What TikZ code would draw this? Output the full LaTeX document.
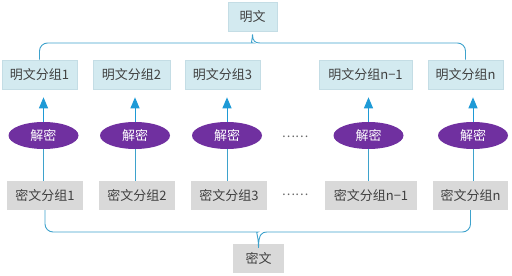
\documentclass[tikz,border=0pt]{standalone}
\usepackage{fontspec}
\setmainfont{Noto Sans CJK SC}
\usetikzlibrary{arrows.meta,shapes.geometric}
\definecolor{txt}{HTML}{404040}
\definecolor{pbox}{HTML}{D3EAF0}
\definecolor{pline}{HTML}{C4DDE5}
\definecolor{cbox}{HTML}{D9D9D9}
\definecolor{dec}{HTML}{7030A0}
\definecolor{lnk}{HTML}{3EA2CC}
\definecolor{arw}{HTML}{1E9AD6}
\tikzset{
  plain/.style={draw=pline,line width=0.6pt,fill=pbox,minimum height=29pt,inner sep=0pt,text=txt,font=\fontsize{13}{15}\selectfont},
  cipher/.style={fill=cbox,minimum height=29pt,inner sep=0pt,text=txt,font=\fontsize{13}{15}\selectfont},
  decbox/.style={ellipse,fill=dec,minimum width=70pt,minimum height=27pt,inner sep=0pt,text=white,font=\fontsize{13}{15}\selectfont},
  link/.style={draw=lnk,line width=0.9pt},
  up/.style={draw=arw,line width=1pt,-{Triangle[width=9pt,length=11pt]},shorten >=8pt},
  dots/.style={text=txt!80,font=\fontsize{12.5}{14}\selectfont,inner sep=0pt}
}
\begin{document}
\begin{tikzpicture}[x=1pt,y=-1pt]
\useasboundingbox (0,0) rectangle (512,276);
% nodes
\node[plain,minimum width=49pt] (P) at (252.5,16.5) {明文};
\node[plain,minimum width=75pt] (p1) at (39.5,74.5) {明文分组1};
\node[plain,minimum width=77pt] (p2) at (131.5,74.5) {明文分组2};
\node[plain,minimum width=75pt] (p3) at (222.5,74.5) {明文分组3};
\node[plain,minimum width=93pt] (p4) at (365.5,74.5) {明文分组n−1};
\node[plain,minimum width=75pt] (p5) at (465.5,74.5) {明文分组n};
\node[decbox] (e1) at (43.5,135.5) {解密};
\node[decbox] (e2) at (135,135.5) {解密};
\node[decbox] (e3) at (227,135.5) {解密};
\node[decbox] (e4) at (368.5,135.5) {解密};
\node[decbox] (e5) at (473,135.5) {解密};
\node[cipher,minimum width=76pt] (c1) at (45,195.5) {密文分组1};
\node[cipher,minimum width=76pt] (c2) at (137,195.5) {密文分组2};
\node[cipher,minimum width=76pt] (c3) at (229,195.5) {密文分组3};
\node[cipher,minimum width=92pt] (c4) at (371,195.5) {密文分组n−1};
\node[cipher,minimum width=75pt] (c5) at (470.5,195.5) {密文分组n};
\node[cipher,minimum width=51pt] (C) at (258.5,258.5) {密文};
\node[dots] (d1) at (295,137) {……};
\node[dots] (d2) at (295,195) {……};
% arrows and lines
\foreach \i in {1,...,5}{
  \draw[up] (e\i.north) -- (e\i.north |- p\i.south);
  \draw[link] (e\i.south) -- (e\i.south |- c\i.north);
}
% top brace
\coordinate (tt) at ([yshift=-3pt]P.south);
\draw[link] (p1.north) [rounded corners=8pt] |- (245,43) [sharp corners]
  .. controls (250,43) and (252.5,41) .. (tt)
  .. controls (252.5,41) and (255,43) .. (260,43)
  [rounded corners=8pt] -| (p5.north);
% bottom brace
\coordinate (bt) at ([yshift=-4pt]C.north);
\draw[link] (c1.south) [rounded corners=8pt] |- (250,232) [sharp corners]
  .. controls (255,232) and (258.5,234) .. (bt)
  .. controls (258.5,234) and (262,232) .. (267,232)
  [rounded corners=8pt] -| (c5.south);
\end{tikzpicture}
\end{document}
